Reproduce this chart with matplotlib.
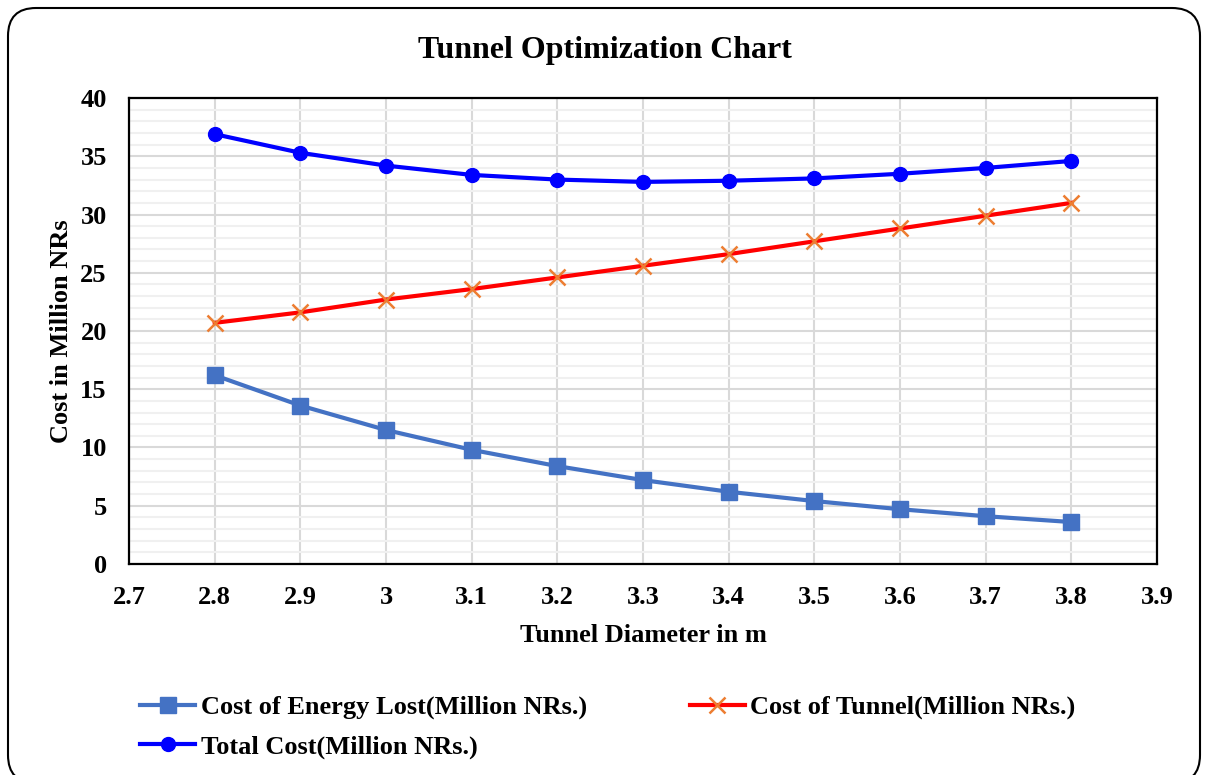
import matplotlib.pyplot as plt
from matplotlib.patches import FancyBboxPatch
from matplotlib.ticker import MultipleLocator

plt.rcParams['font.family'] = ['Liberation Serif', 'DejaVu Serif']
plt.rcParams['font.weight'] = 'bold'

# Datos del tunel
diametros = [2.8, 2.9, 3.0, 3.1, 3.2, 3.3, 3.4, 3.5, 3.6, 3.7, 3.8]
costo_energia = [16.2, 13.6, 11.5, 9.8, 8.4, 7.2, 6.2, 5.4, 4.7, 4.1, 3.6]
costo_tunel = [20.7, 21.6, 22.7, 23.6, 24.6, 25.6, 26.6, 27.7, 28.8, 29.9, 31.0]
costo_total = [36.9, 35.3, 34.2, 33.4, 33.0, 32.8, 32.9, 33.1, 33.5, 34.0, 34.6]

x_ticks = [2.7, 2.8, 2.9, 3.0, 3.1, 3.2, 3.3, 3.4, 3.5, 3.6, 3.7, 3.8, 3.9]
x_labels = ['2.7', '2.8', '2.9', '3', '3.1', '3.2', '3.3', '3.4', '3.5', '3.6', '3.7', '3.8', '3.9']

fig = plt.figure(figsize=(12.06, 7.75), dpi=100)
ax = fig.add_axes([0.107, 0.2723, 0.8524, 0.6012])

l_energia, = ax.plot(diametros, costo_energia, color='#4472C4', lw=3, marker='s',
                     markersize=11.5, label='Cost of Energy Lost(Million NRs.)', zorder=3)
l_tunel, = ax.plot(diametros, costo_tunel, color='#FF0000', lw=3, marker='x',
                   markersize=11, markeredgecolor='#ED7D31', markeredgewidth=1.8,
                   label='Cost of Tunnel(Million NRs.)', zorder=3)
l_total, = ax.plot(diametros, costo_total, color='#0000FF', lw=3, marker='o',
                   markersize=10, label='Total Cost(Million NRs.)', zorder=3)

ax.set_xlim(2.7, 3.9)
ax.set_ylim(0, 40)
ax.set_xticks(x_ticks)
ax.set_xticklabels(x_labels)
ax.yaxis.set_major_locator(MultipleLocator(5))
ax.yaxis.set_minor_locator(MultipleLocator(1))
ax.grid(True, which='major', color='#d9d9d9', lw=1.5)
ax.grid(True, which='minor', axis='y', color='#f0f0f0', lw=1.5)
ax.set_axisbelow(True)
ax.tick_params(which='both', length=0, labelsize=19)
ax.tick_params(axis='x', pad=16)
ax.tick_params(axis='y', pad=16)
for s in ax.spines.values():
    s.set_linewidth(1.6)
    s.set_color('black')

ax.set_xlabel('Tunnel Diameter in m', fontsize=19, fontweight='bold', labelpad=11)
ax.set_ylabel('Cost in Million NRs', fontsize=19, fontweight='bold', labelpad=5)
fig.text(0.502, 0.935, 'Tunnel Optimization Chart', ha='center', va='center',
         fontsize=23, fontweight='bold')

fig.legend(handles=[l_energia, l_total, l_tunel], ncol=2, loc='upper left',
           bbox_to_anchor=(0.116, 0.1025), frameon=False, fontsize=19,
           handlelength=2.1, handletextpad=0.2, columnspacing=3.9,
           labelspacing=0.58, borderpad=0, borderaxespad=0)

# borde redondeado
borde = FancyBboxPatch((8, -8), 1192, 775, boxstyle='round,pad=0,rounding_size=28',
                       transform=None, fill=False, edgecolor='black', lw=1.5)
fig.patches.append(borde)

fig.savefig('out.png', dpi=100)
